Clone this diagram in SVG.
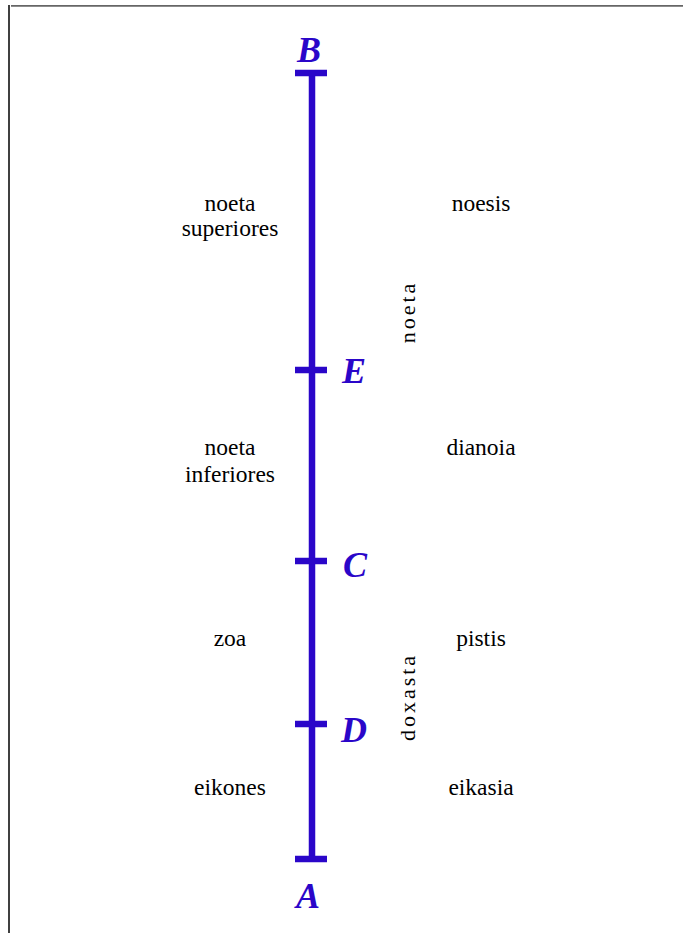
<svg xmlns="http://www.w3.org/2000/svg" width="683" height="933" viewBox="0 0 683 933">
<style>
.lbl{font-family:"Liberation Serif","Times New Roman",serif;font-size:23.5px;fill:#000;text-anchor:middle}
.pt{font-family:"Liberation Serif","Times New Roman",serif;font-size:36px;font-style:italic;font-weight:bold;fill:#2a06c9}
.rot{font-family:"Liberation Serif","Times New Roman",serif;font-size:22px;fill:#000;text-anchor:middle;letter-spacing:3px}
.bar{stroke:#2a06c9;stroke-width:6.5;fill:none}
</style>
<rect width="683" height="933" fill="#fff"/>
<line x1="11" y1="5.8" x2="683" y2="5.8" stroke="#666" stroke-width="1.8"/>
<line x1="9" y1="5" x2="9" y2="933" stroke="#000" stroke-width="1.5"/>
<g id="connectors">
<line class="bar" x1="312" y1="73" x2="312" y2="859"/>
<line class="bar" x1="295" y1="73" x2="327" y2="73"/>
<line class="bar" x1="295" y1="370" x2="327" y2="370"/>
<line class="bar" x1="295" y1="561" x2="327" y2="561"/>
<line class="bar" x1="295" y1="724" x2="327" y2="724"/>
<line class="bar" x1="295" y1="859" x2="327" y2="859"/>
</g>
<g id="B"><text class="pt" x="297" y="62">B</text></g>
<g id="E"><text class="pt" x="342" y="383">E</text></g>
<g id="C"><text class="pt" x="343" y="577">C</text></g>
<g id="D"><text class="pt" x="341" y="742">D</text></g>
<g id="A"><text class="pt" x="296" y="908">A</text></g>
<g id="noeta-sup"><text class="lbl" x="230" y="211">noeta</text><text class="lbl" x="230" y="236">superiores</text></g>
<g id="noesis"><text class="lbl" x="481" y="211">noesis</text></g>
<g id="noeta-inf"><text class="lbl" x="230" y="455">noeta</text><text class="lbl" x="230" y="482">inferiores</text></g>
<g id="dianoia"><text class="lbl" x="481" y="455">dianoia</text></g>
<g id="zoa"><text class="lbl" x="230" y="646">zoa</text></g>
<g id="pistis"><text class="lbl" x="481" y="646">pistis</text></g>
<g id="eikones"><text class="lbl" x="230" y="795">eikones</text></g>
<g id="eikasia"><text class="lbl" x="481" y="795">eikasia</text></g>
<g id="noeta-group"><text class="rot" transform="translate(415,312) rotate(-90)">noeta</text></g>
<g id="doxasta-group"><text class="rot" transform="translate(415,697) rotate(-90)">doxasta</text></g>
</svg>
